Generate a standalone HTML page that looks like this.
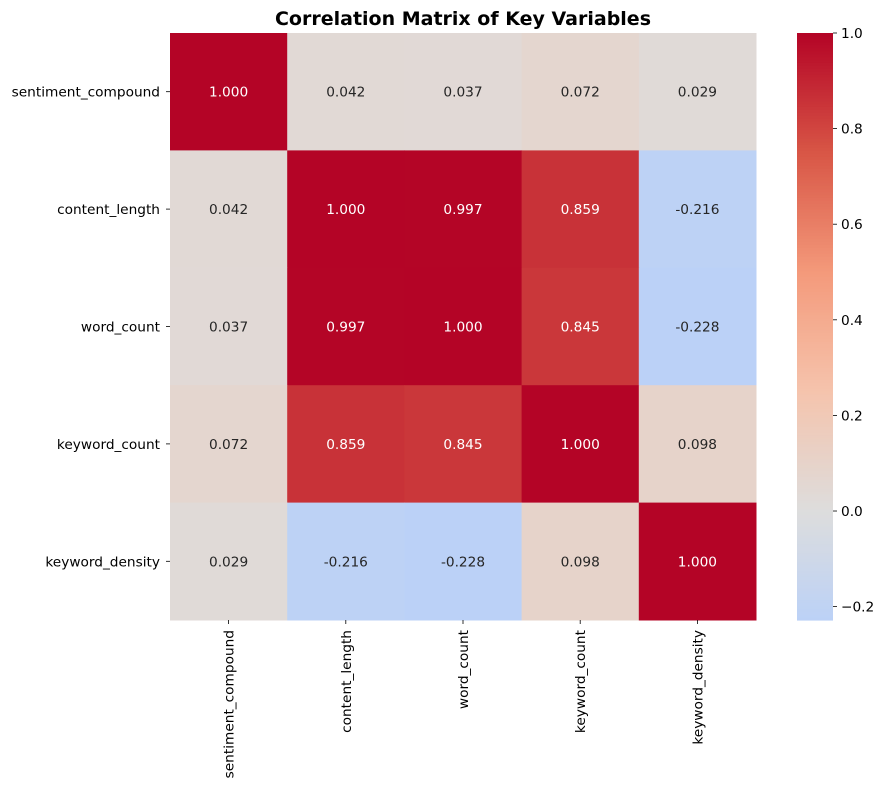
<!DOCTYPE html>
<html><head><meta charset="utf-8">
<style>
html,body{margin:0;padding:0;background:#fff;}
svg{display:block;font-family:"DejaVu Sans","Liberation Sans",sans-serif;}
</style></head>
<body>
<svg id="chart" width="879" height="790" xmlns="http://www.w3.org/2000/svg">
<text x="463" y="25" text-anchor="middle" font-size="19" font-weight="bold">Correlation Matrix of Key Variables</text>
<g id="cells"></g>
<g id="ylabels"></g>
<g id="xlabels"></g>
<g id="cbar"></g>
</svg>
<script>
const labels = ["sentiment_compound","content_length","word_count","keyword_count","keyword_density"];
const row0 = [1.000,0.042,0.037,0.072,0.029];
const row1 = [0.042,1.000,0.997,0.859,-0.216];
const row2 = [0.037,0.997,1.000,0.845,-0.228];
const row3 = [0.072,0.859,0.845,1.000,0.098];
const row4 = [0.029,-0.216,-0.228,0.098,1.000];
const matrix = [row0,row1,row2,row3,row4];
const cbarTicks = [-0.2,0.0,0.2,0.4,0.6,0.8,1.0];
const vmin = -0.228, vmax = 1.0;

const NS="http://www.w3.org/2000/svg";
const X0=170, X1=756, Y0=33, Y1=620;
const FS=13.7;
const n=labels.length, cw=(X1-X0)/n, ch=(Y1-Y0)/n;
const stops=[[0,[59,76,192]],[0.125,[98,130,234]],[0.25,[141,176,254]],[0.375,[184,208,249]],[0.5,[221,221,221]],[0.625,[245,196,173]],[0.75,[244,154,123]],[0.875,[216,86,70]],[1,[180,4,38]]];
function cmap(t){t=Math.max(0,Math.min(1,t));for(let i=1;i<stops.length;i++){if(t<=stops[i][0]){const a=stops[i-1],b=stops[i];const f=(t-a[0])/(b[0]-a[0]);return a[1].map((c,k)=>Math.round(c+(b[1][k]-c)*f));}}return stops[stops.length-1][1];}
function color(v){const c=cmap((v+1)/2);return `rgb(${c[0]},${c[1]},${c[2]})`;}
function el(tag,attrs,parent){const e=document.createElementNS(NS,tag);for(const k in attrs)e.setAttribute(k,attrs[k]);parent.appendChild(e);return e;}

const cells=document.getElementById('cells');
matrix.forEach((row,i)=>row.forEach((v,j)=>{
  const r=el('rect',{x:X0+j*cw,y:Y0+i*ch,width:cw+0.5,height:ch+0.5,fill:color(v)},cells);
  
  
  const t=el('text',{x:X0+(j+0.5)*cw,y:Y0+(i+0.5)*ch+5,'text-anchor':'middle','font-size':FS,fill:v>0.7?'#fff':'#262626'},cells);
  t.textContent=v.toFixed(3);
  
  
}));
const yl=document.getElementById('ylabels');
labels.forEach((l,i)=>{
  const y=Y0+(i+0.5)*ch;
  el('line',{x1:X0-4,x2:X0,y1:y,y2:y,stroke:'#000','stroke-width':0.8},yl);
  const t=el('text',{x:X0-10,y:y+5,'text-anchor':'end','font-size':FS},yl);
  t.textContent=l;
  
  
});
const xl=document.getElementById('xlabels');
labels.forEach((l,j)=>{
  const x=X0+(j+0.5)*cw;
  el('line',{x1:x,x2:x,y1:Y1,y2:Y1+4,stroke:'#000','stroke-width':0.8},xl);
  const t=el('text',{x:x+5,y:Y1+10,'text-anchor':'end','font-size':FS,transform:`rotate(-90 ${x+5} ${Y1+10})`},xl);
  t.textContent=l;
  
  
});
const cb=document.getElementById('cbar');
const CX=797, CW=36;
function cy(v){return Y1-(v-vmin)/(vmax-vmin)*(Y1-Y0);}
const N=200;
for(let k=0;k<N;k++){
  const v=vmin+(vmax-vmin)*(k+0.5)/N;
  el('rect',{x:CX,y:Y1-(k+1)*(Y1-Y0)/N,width:CW,height:(Y1-Y0)/N+0.6,fill:color(v)},cb);
}
cbarTicks.forEach(v=>{
  const y=cy(v);
  el('line',{x1:CX+CW,x2:CX+CW+4,y1:y,y2:y,stroke:'#000','stroke-width':0.8},cb);
  const t=el('text',{x:CX+CW+8,y:y+5,'font-size':FS},cb);
  t.textContent=(v<0?'\u2212':'')+Math.abs(v).toFixed(1);
  
  
});
</script>
</body></html>
